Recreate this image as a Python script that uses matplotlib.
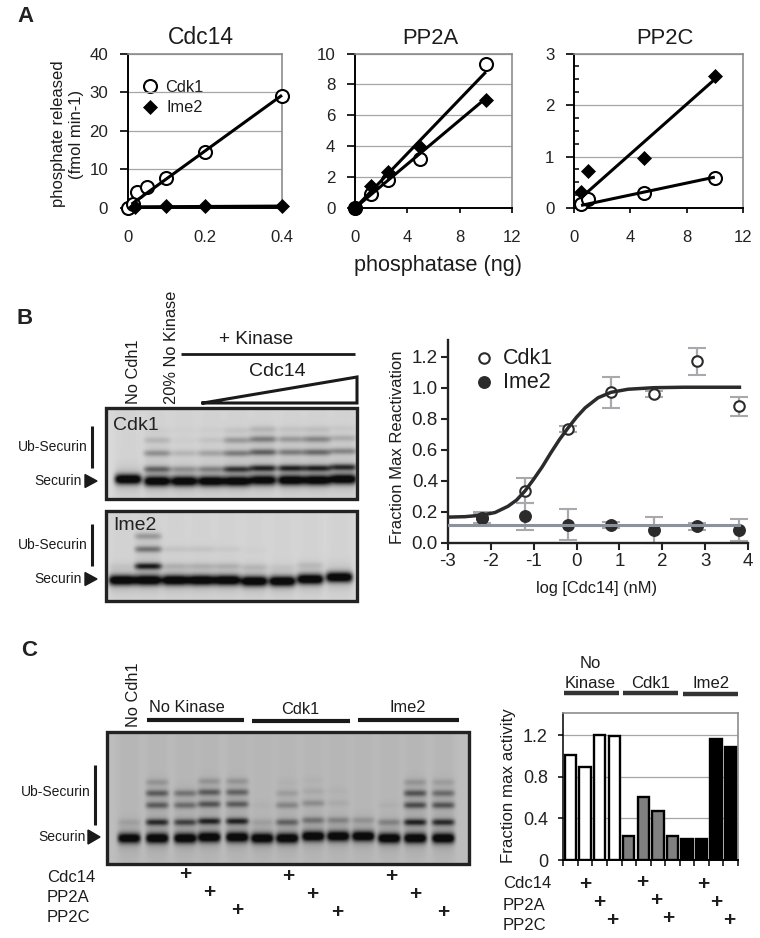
import numpy as np
import matplotlib
matplotlib.use("Agg")
import matplotlib.pyplot as plt

plt.rcParams["font.family"] = ["Liberation Sans", "DejaVu Sans"]

W, H = 760, 938
PX = 0.72  # points per pixel at dpi 100

# panel A
cdc14_cdk1_x = [0, 0.0125, 0.025, 0.05, 0.1, 0.2, 0.4]
cdc14_cdk1_y = [0, 1.0, 4.2, 5.4, 7.7, 14.5, 29]
cdc14_ime2_x = [0.02, 0.1, 0.2, 0.4]
cdc14_ime2_y = [0.3, 0.4, 0.4, 0.4]
cdc14_fit_cdk1_x = [0.01, 0.4]
cdc14_fit_cdk1_y = [1.0, 29.2]
cdc14_fit_ime2_x = [0.02, 0.4]
cdc14_fit_ime2_y = [0.3, 0.5]

pp2a_x = [0, 1.25, 2.5, 5, 10]
pp2a_cdk1_y = [0, 0.9, 1.8, 3.2, 9.35]
pp2a_ime2_y = [0, 1.4, 2.3, 3.95, 7.0]
pp2a_fit_x = [0, 10]
pp2a_fit_cdk1_y = [0, 8.8]
pp2a_fit_ime2_y = [0, 7.1]

pp2c_cdk1_x = [0.5, 1, 5, 10]
pp2c_cdk1_y = [0.08, 0.17, 0.29, 0.59]
pp2c_ime2_x = [0.5, 1, 5, 10]
pp2c_ime2_y = [0.32, 0.72, 0.97, 2.56]
pp2c_fit_x = [0.5, 10]
pp2c_fit_cdk1_y = [0.05, 0.6]
pp2c_fit_ime2_y = [0.2, 2.5]

# panel B curve
log_x = [-2.2, -1.2, -0.2, 0.8, 1.8, 2.8, 3.8]
b_cdk1_y = [0.16, 0.335, 0.735, 0.97, 0.96, 1.17, 0.88]
b_cdk1_err = [0.04, 0.08, 0.02, 0.10, 0.02, 0.085, 0.06]
b_ime2_y = [0.16, 0.17, 0.115, 0.115, 0.08, 0.105, 0.08]
b_ime2_err = [0.03, 0.085, 0.10, 0.02, 0.085, 0.02, 0.07]
curve_x = [-3, -2.6, -2.2, -1.9, -1.6, -1.4, -1.2, -1.0, -0.8, -0.6, -0.4, -0.2,
           0, 0.2, 0.5, 0.8, 1.2, 1.8, 2.5, 3.8]
curve_y = [0.165, 0.168, 0.178, 0.195, 0.235, 0.275, 0.335, 0.41, 0.49, 0.58, 0.665, 0.74,
           0.81, 0.87, 0.935, 0.97, 0.99, 1.0, 1.003, 1.003]
ime2_fit_x = [-3, 3.8]
ime2_fit_y = [0.115, 0.115]

# panel C bars
bar_values = [1.01, 0.89, 1.2, 1.19, 0.23, 0.61, 0.47, 0.23, 0.2, 0.2, 1.16, 1.09]
bar_colors = ["white"] * 4 + ["#808080"] * 4 + ["black"] * 4

# blots: lane centres (px), band rows (px), darkness per lane
cdk1_lanes = [128, 157, 184, 211, 237, 263, 291, 317, 343]
cdk1_rows = [481, 469, 453, 440, 430]
cdk1_bands = [[1.0, 0.95, 0.95, 0.95, 0.95, 0.9, 0.95, 0.95, 0.95],
              [0, 0.55, 0.3, 0.38, 0.8, 0.9, 0.9, 0.9, 0.85],
              [0, 0.35, 0.15, 0.25, 0.45, 0.6, 0.45, 0.55, 0.4],
              [0, 0.15, 0.03, 0.08, 0.3, 0.45, 0.3, 0.4, 0.2],
              [0, 0.03, 0.02, 0.03, 0.07, 0.15, 0.08, 0.1, 0.05]]
cdk1_shift = [-2, 0, 0, 0, 0, -1, -1, -1, -2]

ime2_lanes = [122, 148, 175, 201, 227, 254, 282, 310, 339]
ime2_rows = [580, 566, 549, 536]
ime2_bands = [[1.0, 1.0, 1.0, 1.0, 1.0, 1.0, 1.0, 1.0, 1.0],
              [0.05, 0.95, 0.15, 0.15, 0.15, 0.12, 0.05, 0.1, 0],
              [0, 0.5, 0.08, 0.08, 0.05, 0.02, 0, 0, 0],
              [0, 0.3, 0, 0, 0, 0, 0, 0, 0]]
ime2_shift = [0, 0, 0, 0, 0, 1, 1, -1, -3]

c_lanes = [129, 157, 185, 209, 237, 262, 287, 313, 338, 363, 389, 415, 443]
c_rows = [838, 822, 805, 793, 782]
c_bands = [[0.95, 1, 1, 1, 1, 1, 1, 1, 1, 1, 1, 1, 1],
           [0.12, 0.85, 0.7, 0.9, 0.9, 0.12, 0.5, 0.4, 0.3, 0.2, 0.3, 0.9, 0.85],
           [0, 0.55, 0.45, 0.6, 0.55, 0.03, 0.3, 0.25, 0.07, 0, 0.04, 0.65, 0.6],
           [0, 0.55, 0.4, 0.55, 0.5, 0, 0.15, 0.08, 0.03, 0, 0, 0.6, 0.45],
           [0, 0.2, 0, 0.2, 0.2, 0, 0.03, 0.03, 0, 0, 0, 0.2, 0.15]]
c_shift = [0, 0, 0, -1, -1, 0, 0, -2, -2, -2, 0, 0, 0]


def px_axes(left, top, right, bottom):
    ax = fig.add_axes([left / W, 1 - bottom / H, (right - left) / W, (bottom - top) / H])
    ax.patch.set_alpha(0)
    return ax


def blot(box, lanes, rows, bands, shift, half_w, base, smear):
    x0, y0, x1, y1 = box
    yy, xx = np.mgrid[y0:y1:0.5, x0:x1:0.5]
    dark = np.zeros(xx.shape)
    for i, lx in enumerate(lanes):
        in_x = np.exp(-((xx - lx) / half_w) ** 6)
        dark += smear * np.exp(-((xx - lx) / half_w) ** 4)
        for r, row in enumerate(rows):
            amp = bands[r][i]
            h = 5.0 if r == 0 else 3.2
            d = yy - row - shift[i]
            dark += amp * in_x * np.exp(-(d / h) ** 2) * (1.15 if r == 0 else 0.8)
            dark += 0.14 * amp * in_x * np.exp(-(d / (2.4 * h)) ** 2)
    gray = np.clip(base - dark * (base - 0.05), 0.05, 1)
    over.imshow(gray, cmap="gray", vmin=0, vmax=1, extent=(x0, x1, y1, y0),
                aspect="auto", interpolation="bilinear", zorder=1)
    over.add_patch(plt.Rectangle((x0, y0), x1 - x0, y1 - y0, fill=False,
                                 ec="#222222", lw=2.4, zorder=3))


def style_a(ax, xlim, ylim, xticks, xlabels, yticks, ylabels, x_len=5):
    ax.set_xlim(*xlim)
    ax.set_ylim(*ylim)
    ax.set_xticks(xticks, xlabels)
    ax.set_yticks(yticks, ylabels)
    ax.tick_params(axis="y", length=7 * PX * 1.1, width=1.2, labelsize=12.2, pad=8.5, labelcolor="#222222")
    ax.tick_params(axis="x", length=x_len * PX, width=1.2, labelsize=12,
                   pad=(22 - x_len) * PX, labelcolor="#222222")
    ax.grid(axis="y", color="#a6a6a6", lw=0.9)
    ax.set_axisbelow(True)
    for s in ["top", "right"]:
        ax.spines[s].set_color("#8c8c8c")
        ax.spines[s].set_linewidth(1.2)
    for s in ["left", "bottom"]:
        ax.spines[s].set_linewidth(1.4)


CIRC = dict(ls="none", marker="o", ms=13 * PX, mfc="white", mec="black", mew=1.5, clip_on=False, zorder=4)
DIAM = dict(ls="none", marker="D", ms=9.5 * PX, mfc="black", mec="black", mew=0.5, clip_on=False, zorder=5)
LINE = dict(color="black", lw=2.2, clip_on=False, zorder=6, solid_capstyle="butt")

fig = plt.figure(figsize=(W / 100, H / 100), dpi=100)

# overlay in pixel coordinates, for the blots and all loose labels
over = fig.add_axes([0, 0, 1, 1])
over.axis("off")


def label(x, y, s, size=11, ha="left", va="center", rot=0, **kw):
    kw.setdefault("color", "#1c1c1c")
    over.text(x, y, s, fontsize=size, ha=ha, va=va, rotation=rot, **kw)


def bar_line(x0, x1, y, lw=2.0, color="#1a1a1a"):
    over.plot([x0, x1], [y, y], color=color, lw=lw, solid_capstyle="butt", zorder=3)


# ---- panel A
ax = px_axes(127.7, 53.5, 282, 208)
style_a(ax, (0, 0.4), (0, 40), [0, 0.2, 0.4], ["0", "0.2", "0.4"],
        [0, 10, 20, 30, 40], ["0", "10", "20", "30", "40"], x_len=0)
ax.plot(cdc14_cdk1_x, cdc14_cdk1_y, **CIRC)
ax.plot(cdc14_ime2_x, cdc14_ime2_y, **DIAM)
ax.plot(cdc14_fit_cdk1_x, cdc14_fit_cdk1_y, **LINE)
ax.plot(cdc14_fit_ime2_x, cdc14_fit_ime2_y, **LINE)

ax = px_axes(355, 53.5, 512, 208)
style_a(ax, (0, 12), (0, 10), [0, 4, 8, 12], ["0", "4", "8", "12"],
        [0, 2, 4, 6, 8, 10], ["0", "2", "4", "6", "8", "10"])
ax.plot(pp2a_x, pp2a_cdk1_y, **CIRC)
ax.plot(pp2a_x, pp2a_ime2_y, **DIAM)
ax.plot(pp2a_x[:1], pp2a_cdk1_y[:1], ls="none", marker="o", ms=13 * PX, color="black", clip_on=False, zorder=7)
ax.plot(pp2a_fit_x, pp2a_fit_cdk1_y, **LINE)
ax.plot(pp2a_fit_x, pp2a_fit_ime2_y, **LINE)

ax = px_axes(574, 53.5, 743, 208)
style_a(ax, (0, 12), (0, 3), [0, 4, 8, 12], ["0", "4", "8", "12"],
        [0, 1, 2, 3], ["0", "1", "2", "3"])
ax.set_yticks([0.25, 0.5, 0.75, 1.25, 1.5, 1.75, 2.25, 2.5, 2.75], minor=True)
ax.tick_params(axis="y", which="minor", direction="in", length=5 * PX, width=1.1)
ax.plot(pp2c_cdk1_x, pp2c_cdk1_y, **CIRC)
ax.plot(pp2c_ime2_x, pp2c_ime2_y, **DIAM)
ax.plot(pp2c_fit_x, pp2c_fit_cdk1_y, **LINE)
ax.plot(pp2c_fit_x, pp2c_fit_ime2_y, **LINE)

label(17, 17, "A", 16, weight="bold", color="#222222")
label(201, 38, "Cdc14", 16.5, ha="center")
label(430, 38, "PP2A", 15.8, ha="center")
label(665, 38, "PP2C", 15.8, ha="center")
label(438, 266, "phosphatase (ng)", 15.6, ha="center")
label(58, 134, "phosphate released", 12, ha="center", rot=90)
label(77, 134, "(fmol min-1)", 12, ha="center", rot=90)
over.plot([149.5], [86.5], **{**CIRC, "zorder": 8})
over.plot([150], [107], **{**DIAM, "zorder": 8})
label(165, 88, "Cdk1", 11.8)
label(166, 107, "Ime2", 11.8)

# ---- panel B blots
blot((106, 408, 357, 499), cdk1_lanes, cdk1_rows, cdk1_bands, cdk1_shift, 13.5, 0.85, 0.03)
blot((106, 511, 357, 601), ime2_lanes, ime2_rows, ime2_bands, ime2_shift, 13.5, 0.85, 0.03)
label(17, 318, "B", 16, weight="bold", color="#222222")
label(133, 404, "No Cdh1", 11.8, ha="center", va="bottom", rot=90)
label(171, 404, "20% No Kinase", 11.8, ha="center", va="bottom", rot=90)
label(256, 339, "+ Kinase", 13.7, ha="center")
bar_line(181, 355, 354)
label(277, 372, "Cdc14", 14, ha="center")
over.plot([203, 357, 357, 203], [403, 377, 403, 403], color="#1a1a1a", lw=2.2, zorder=3, solid_joinstyle="miter")
label(113, 425, "Cdk1", 14, color="#222222", zorder=5)
label(113, 525, "Ime2", 14, color="#222222", zorder=5)
for y_ub, y_bar0, y_bar1, y_sec in [(447, 426, 468, 481), (545, 524, 566, 579)]:
    label(88, y_ub, "Ub-Securin", 10, ha="right", va="center")
    over.plot([92, 92], [y_bar0, y_bar1], color="#1a1a1a", lw=2.2, solid_capstyle="butt", zorder=3)
    label(82, y_sec, "Securin", 10, ha="right")
    over.fill([85, 97, 85], [y_sec - 6.5, y_sec, y_sec + 6.5], color="#1a1a1a", zorder=3)

# ---- panel B curve
ax = px_axes(448, 340, 748, 542.7)
ax.set_xlim(-3, 4)
ax.set_ylim(0, (542.7 - 340) / 155)
for s in ["top", "right"]:
    ax.spines[s].set_visible(False)
for s in ["left", "bottom"]:
    ax.spines[s].set_linewidth(1.7)
    ax.spines[s].set_color("#222222")
ax.set_xticks(range(-3, 5), ["-3", "-2", "-1", "0", "1", "2", "3", "4"])
ax.set_yticks([0, 0.2, 0.4, 0.6, 0.8, 1.0, 1.2], ["0.0", "0.2", "0.4", "0.6", "0.8", "1.0", "1.2"])
ax.tick_params(length=6 * PX * 1.1, width=1.5, labelsize=13.5, pad=2.5, color="#222222", labelcolor="#222222")
ERR = dict(ls="none", ecolor="#a9a9ad", elinewidth=1.6, capsize=6.5, capthick=1.5, clip_on=False)
ax.errorbar(log_x, b_cdk1_y, yerr=b_cdk1_err, zorder=2, **ERR)
ax.errorbar(log_x, b_ime2_y, yerr=b_ime2_err, zorder=2, **ERR)
ax.plot(log_x, b_cdk1_y, ls="none", marker="o", ms=10.5 * PX, mfc="white", mec="#2b2b2b", mew=1.5, zorder=3)
ax.plot(log_x, b_ime2_y, ls="none", marker="o", ms=11.5 * PX, color="#2b2b2b", clip_on=False, zorder=3.5)
ax.plot(ime2_fit_x, ime2_fit_y, color="#8d9199", lw=2.2, zorder=4)
ax.plot(curve_x, curve_y, color="#2b2b2b", lw=2.5, zorder=5)
label(503, 358, "Cdk1", 15.5)
label(503, 383, "Ime2", 15.5)
over.plot([484], [358], marker="o", ms=10.5 * PX, mfc="white", mec="#2b2b2b", mew=1.5, zorder=5)
over.plot([484], [382], marker="o", ms=11.5 * PX, color="#2b2b2b", zorder=5)
label(398, 447, "Fraction Max Reactivation", 12, ha="center", rot=90)
label(597, 588, "log [Cdc14] (nM)", 11.8, ha="center")

# ---- panel C blot
blot((107, 732, 469, 864), c_lanes, c_rows, c_bands, c_shift, 11.5, 0.74, 0.04)
label(21, 650, "C", 16, weight="bold", color="#222222")
label(133, 727, "No Cdh1", 11.8, ha="center", va="bottom", rot=90)
label(187, 708, "No Kinase", 11.8, ha="center")
label(300, 709, "Cdk1", 11.8, ha="center")
label(408, 708, "Ime2", 11.8, ha="center")
bar_line(147, 244, 720, 3)
bar_line(252, 350, 721, 3)
bar_line(358, 459, 720, 3)
label(91, 792, "Ub-Securin", 10, ha="right")
over.plot([95, 95], [765, 825], color="#1a1a1a", lw=2.2, solid_capstyle="butt", zorder=3)
label(86, 837, "Securin", 10, ha="right")
over.fill([88, 100, 88], [830, 837, 844], color="#1a1a1a", zorder=3)

for y, s in [(877, "Cdc14"), (897, "PP2A"), (917, "PP2C")]:
    label(47, y, s, 12)
for x, y in [(185, 875), (209, 893), (237, 911), (288, 876), (312, 895), (337, 913),
             (391, 876), (415, 895), (443, 913)]:
    over.text(x, y, "+", fontsize=15, ha="center", va="center", weight="bold", color="#1c1c1c")

# ---- panel C bars
ax = px_axes(563.3, 713, 738, 860)
ax.set_xlim(0, len(bar_values))
ax.set_ylim(0, 147 / 104)
ax.bar(np.arange(len(bar_values)) + 0.5, bar_values, width=0.78, color=bar_colors, edgecolor="black", linewidth=1.7, zorder=3)
ax.set_xticks(range(len(bar_values) + 1), [])
ax.set_yticks([0, 0.4, 0.8, 1.2], ["0", "0.4", "0.8", "1.2"])
ax.tick_params(axis="x", length=6 * PX, width=1.1)
ax.tick_params(axis="y", length=5 * PX, width=1.1, labelsize=13, pad=7.5, labelcolor="#222222")
ax.grid(axis="y", color="#a6a6a6", lw=0.9)
ax.set_axisbelow(True)
for s in ["top", "right"]:
    ax.spines[s].set_color("#8c8c8c")
    ax.spines[s].set_linewidth(1.2)
ax.spines["left"].set_linewidth(1.1)
ax.spines["bottom"].set_linewidth(1.4)

label(590, 663, "No", 12, ha="center")
label(590, 683, "Kinase", 12, ha="center")
label(651, 683, "Cdk1", 12, ha="center")
label(711, 683, "Ime2", 12, ha="center")
bar_line(564, 619, 693, 3.2, "#333333")
bar_line(623, 678, 693, 3.2, "#333333")
bar_line(683, 738, 694, 3.2, "#333333")
label(509, 786, "Fraction max activity", 12.2, ha="center", rot=90)
for y, s in [(884, "Cdc14"), (905, "PP2A"), (925, "PP2C")]:
    label(503, y, s, 12)
for x, y in [(585, 885), (599, 902), (612, 920), (642, 883), (656, 901), (668, 918),
             (703, 885), (716, 902), (729, 920)]:
    over.text(x, y, "+", fontsize=15, ha="center", va="center", weight="bold", color="#1c1c1c")

over.set_xlim(0, W)
over.set_ylim(H, 0)
plt.savefig("out.png", dpi=100)
plt.close()
